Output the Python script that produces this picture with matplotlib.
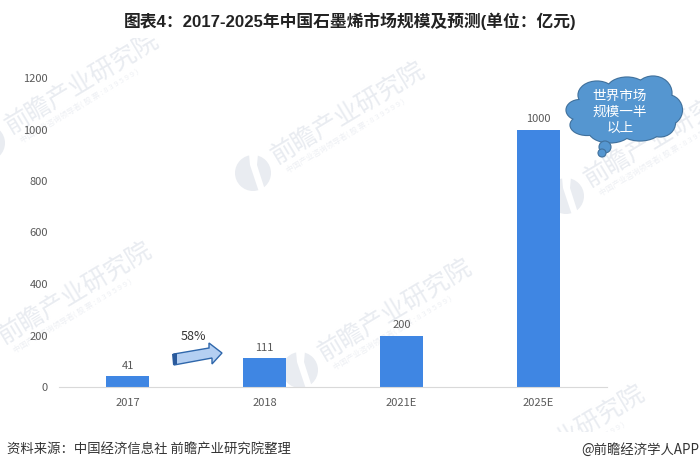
import matplotlib
matplotlib.use("Agg")
import matplotlib.pyplot as plt
from matplotlib.patches import Ellipse, Circle, Polygon, Rectangle

plt.rcParams['font.family'] = ['Noto Sans CJK SC', 'DejaVu Sans']

categories = ["2017", "2018", "2021E", "2025E"]
values = [41, 111, 200, 1000]
yticks = [0, 200, 400, 600, 800, 1000, 1200]
title = "图表4：2017-2025年中国石墨烯市场规模及预测(单位：亿元)"
source = "资料来源：中国经济信息社 前瞻产业研究院整理"
credit = "@前瞻经济学人APP"
growth = "58%"
callout = "世界市场\n规模一半\n以上"
mark_main = "前瞻产业研究院"
mark_sub = "中国产业咨询领导者( 股 票 : 8 3 9 5 9 9 )"

W, H = 700, 470
BAR = "#3f86e3"
TXT = "#595959"
MARK = "#e9ecf1"

fig = plt.figure(figsize=(7, 4.7), dpi=100)

# overlay in pixel coords for the watermark / callouts
bg = fig.add_axes([0, 0, 1, 1], zorder=0)
bg.set_xlim(0, W)
bg.set_ylim(H, 0)
bg.axis("off")

marks = [(6, 130), (272, 160), (585, 183), (-1, 340), (319, 357), (492, 483)]
for x, y in marks:
    bg.text(x + 4, y + 4, mark_main, fontsize=18, color=MARK, rotation=31,
            rotation_mode="anchor", ha="left", va="baseline")
    bg.text(x + 16, y + 13, mark_sub, fontsize=5.6, color="#eef0f4", rotation=31,
            rotation_mode="anchor", ha="left", va="baseline")
    cx, cy = x - 19, y + 13
    bg.add_patch(Circle((cx, cy), 18, color="#e9ecf1", lw=0))
    bg.add_patch(Polygon([(cx - 4, cy - 19), (cx + 5, cy - 19), (cx + 4, cy - 8),
                          (cx + 12, cy + 17), (cx + 6, cy + 19), (cx - 3, cy - 8)],
                         closed=True, fc="white", lw=0))
# watermark is cut by the title and footer bands
bg.add_patch(Rectangle((0, 0), W, 38, fc="white", lw=0, zorder=5))
bg.add_patch(Rectangle((0, 432), W, 38, fc="white", lw=0, zorder=5))

ax = fig.add_axes([59 / W, 1 - 387 / H, 548 / W, 309 / H], zorder=1)
ax.patch.set_alpha(0)
xs = range(len(categories))
bars = ax.bar(xs, values, width=0.314, color=BAR)
ax.bar_label(bars, padding=4, fontsize=8, color=TXT)
ax.set_xlim(-0.5, 3.5)
ax.set_ylim(0, 1200)
ax.set_xticks(list(xs), categories)
ax.set_yticks(yticks)
ax.tick_params(length=0, labelsize=8, labelcolor=TXT)
ax.tick_params(axis="x", pad=8)
ax.tick_params(axis="y", pad=8)
for s in ["top", "right", "left"]:
    ax.spines[s].set_visible(False)
ax.spines["bottom"].set_color("#d9d9d9")

fg = fig.add_axes([0, 0, 1, 1], zorder=2)
fg.set_xlim(0, W)
fg.set_ylim(H, 0)
fg.axis("off")

fig.text(0.5, 1 - 21 / H, title, ha="center", va="center", fontsize=12.1,
         fontweight="bold", color="#222222", family=["Liberation Sans", "Noto Sans CJK SC"])
fig.text(7 / W, 1 - 450 / H, source, ha="left", va="center", fontsize=9.6, color="#333333")
fig.text(699 / W, 1 - 450 / H, credit, ha="right", va="center", fontsize=9.6, color="#333333")

# growth arrow
arrow = [(174, 354), (209, 348), (209, 343), (222, 353), (212, 364), (212, 358), (174, 365)]
fg.add_patch(Polygon(arrow, closed=True, fc="#b4cff2", ec="#2f67ab", lw=1))
fg.add_patch(Polygon([(172, 354), (177, 353), (177, 364), (173, 365)], closed=True, fc="#2a5a9c", lw=0))
fg.text(193, 337, growth, ha="center", va="center", fontsize=9, color="#333333")

# cloud callout
CLOUD = "#5596d0"
EDGE = "#41719c"
lobes = [(597, 95, 37, 27), (627, 90, 40, 25), (653, 93, 37, 33), (667, 110, 30, 30),
         (660, 123, 30, 27), (640, 128, 43, 25), (610, 130, 43, 25), (587, 125, 33, 20),
         (580, 110, 27, 20), (620, 110, 87, 50)]
for cx, cy, w, h in lobes:
    fg.add_patch(Ellipse((cx, cy), w, h, fc=EDGE, ec=EDGE, lw=1.6))
for cx, cy, w, h in lobes:
    fg.add_patch(Ellipse((cx, cy), w, h, fc=CLOUD, ec=CLOUD, lw=0))
fg.add_patch(Ellipse((605, 147), 12, 12, fc=CLOUD, ec=EDGE, lw=0.8))
fg.add_patch(Ellipse((602, 153), 8, 8, fc=CLOUD, ec=EDGE, lw=0.8))
fg.text(620, 112, callout, ha="center", va="center", fontsize=9.8, color="white", linespacing=1.15)

fig.savefig("out.png", dpi=100)
